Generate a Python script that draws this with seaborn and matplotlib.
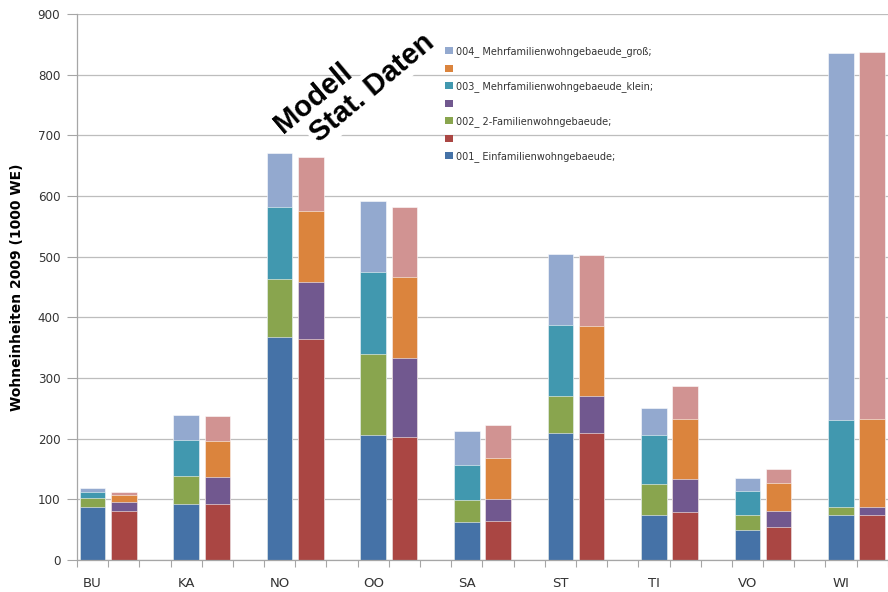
import matplotlib
matplotlib.use("Agg")
import matplotlib.pyplot as plt
from matplotlib.patches import Patch
import numpy as np
import seaborn as sns

# Wohneinheiten 2009 (1000 WE) je Region: Modell vs. statistische Daten
regions = ["BU", "KA", "NO", "OO", "SA", "ST", "TI", "VO", "WI"]

modell_efh = [87, 92, 368, 206, 62, 210, 74, 50, 75]
modell_zfh = [15, 46, 95, 134, 37, 61, 52, 24, 12]
modell_mfh_klein = [10, 59, 119, 134, 58, 117, 80, 39, 144]
modell_mfh_gross = [6, 42, 89, 117, 56, 117, 44, 22, 604]

stat_efh = [81, 92, 365, 202, 64, 209, 79, 54, 74]
stat_zfh = [15, 44, 94, 131, 37, 62, 54, 27, 14]
stat_mfh_klein = [11, 60, 117, 133, 67, 114, 99, 46, 144]
stat_mfh_gross = [5, 42, 89, 116, 55, 117, 55, 23, 605]

legend_labels = [
    "004_ Mehrfamilienwohngebaeude_groß;",
    "",
    "003_ Mehrfamilienwohngebaeude_klein;",
    "",
    "002_ 2-Familienwohngebaeude;",
    "",
    "001_ Einfamilienwohngebaeude;",
]

modell_colors = ["#4572A7", "#89A54E", "#4198AF", "#93A9CF"]
stat_colors = ["#AA4643", "#71588F", "#DB843D", "#D19392"]

sns.set_theme(style="white")
plt.rcParams["font.family"] = ["DejaVu Sans"]

fig = plt.figure(figsize=(8.88, 5.92), dpi=100)
ax = fig.add_axes([77 / 888, 32 / 592, 842 / 888, 546 / 592])

n = len(regions)
slots_per_region = 3
pos_modell = [slots_per_region * i for i in range(n)]
pos_stat = [slots_per_region * i + 1 for i in range(n)]

modell_layers = [modell_efh, modell_zfh, modell_mfh_klein, modell_mfh_gross]
stat_layers = [stat_efh, stat_zfh, stat_mfh_klein, stat_mfh_gross]
modell_cum = np.cumsum(np.array(modell_layers), axis=0)
stat_cum = np.cumsum(np.array(stat_layers), axis=0)

# with native_scale the width is a fraction of the spacing between bars
bar_kw = dict(native_scale=True, width=0.82 / slots_per_region, saturation=1,
              errorbar=None, edgecolor=(1, 1, 1, 0.55), linewidth=0.7, ax=ax,
              zorder=2)

# stacked bars: draw the running totals from the top layer downwards
for k in range(3, -1, -1):
    sns.barplot(x=pos_modell, y=modell_cum[k], color=modell_colors[k], **bar_kw)
    sns.barplot(x=pos_stat, y=stat_cum[k], color=stat_colors[k], **bar_kw)

ax.set_xlim(-0.5, slots_per_region * n - 0.5)
ax.set_ylim(0, 900)
ax.set_yticks(range(0, 901, 100))
ax.set_xticks(pos_modell)
ax.set_xticklabels(regions, fontsize=9.5, color="#333333")
ax.set_xticks(np.arange(-0.5, slots_per_region * n, 1), minor=True)
ax.tick_params(axis="x", which="major", length=0, pad=12)
ax.tick_params(axis="x", which="minor", length=5, width=0.8, color="#a6a6a6",
               direction="out", bottom=True)
ax.tick_params(axis="y", length=7, width=0.8, color="#a6a6a6", direction="out",
               left=True, pad=5, labelsize=8.6, labelcolor="#333333")

ax.yaxis.grid(True, color="#bdbdbd", linewidth=0.9, zorder=0)
ax.xaxis.grid(False)
ax.set_axisbelow(True)
for side in ["top", "right"]:
    ax.spines[side].set_visible(False)
for side in ["left", "bottom"]:
    ax.spines[side].set_color("#a6a6a6")
    ax.spines[side].set_linewidth(0.9)

ax.set_xlabel("")
ax.set_ylabel("Wohneinheiten 2009 (1000 WE)", fontsize=10, fontweight="bold",
              color="black")
ax.yaxis.set_label_coords(-0.063, 0.5)

handle_colors = ["#93A9CF", "#DB843D", "#4198AF", "#71588F",
                 "#89A54E", "#AA4643", "#4572A7"]
handles = [Patch(facecolor=c, edgecolor="none") for c in handle_colors]
fig.legend(handles, legend_labels, loc="upper left",
           bbox_to_anchor=(445 / 888, 1 - 46 / 592), frameon=False,
           fontsize=7, labelcolor="#333333", handlelength=0.8, handleheight=0.7,
           handletextpad=0.3, labelspacing=0.72, borderpad=0, borderaxespad=0)

fig.text(313 / 888, 1 - 98 / 592, "Modell", rotation=40, rotation_mode="anchor",
         ha="center", va="center", fontsize=21, fontweight="bold",
         family=["Liberation Sans", "DejaVu Sans"], color="black")
fig.text(372 / 888, 1 - 88 / 592, "Stat. Daten", rotation=40,
         rotation_mode="anchor", ha="center", va="center", fontsize=21,
         fontweight="bold", family=["Liberation Sans", "DejaVu Sans"],
         color="black",
         bbox=dict(facecolor="white", edgecolor="none", pad=2))

fig.savefig("out.png", dpi=100)
